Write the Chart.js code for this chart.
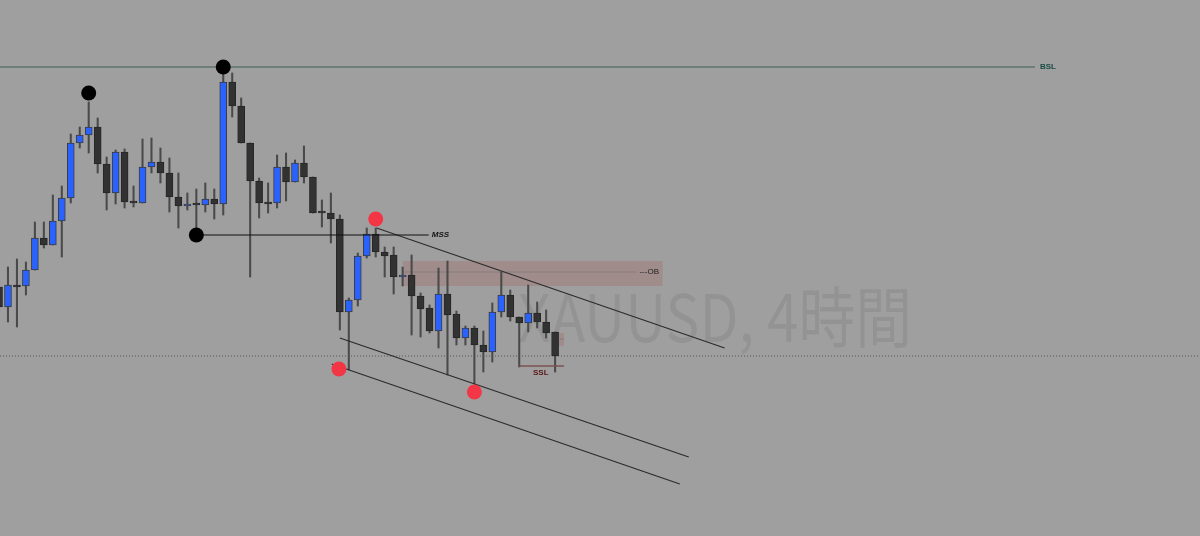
<!DOCTYPE html>
<html>
<head>
  <title>XAUUSD, 4時間</title>
  <meta charset="UTF-8">
  <script src="https://cdn.jsdelivr.net/npm/chart.js"></script>
  <style>
    html, body {
      margin: 0;
      padding: 0;
      background-color: #9f9f9f;
      overflow: hidden;
    }
    #grafikContainer { width: 1200px; height: 536px; }
  </style>
</head>
<body>

  <div id="grafikContainer">
    <canvas id="grafikXau" width="1200" height="536"></canvas>
  </div>

  <script>
    // 4h candles, left to right (index 0 is the one cut off at the left edge)
    const opens  = [2213, 2193, 2214, 2214, 2230, 2262, 2255, 2279, 2302, 2357, 2365, 2373, 2336, 2307, 2348, 2299,
                    2297, 2333, 2338, 2327, 2303, 2294, 2296, 2295, 2301, 2296, 2418, 2394, 2357, 2319, 2297, 2297,
                    2333, 2318, 2337, 2323, 2288, 2287, 2281, 2188, 2200, 2244, 2266, 2248, 2245, 2223, 2225, 2204,
                    2192, 2169, 2206, 2186, 2162, 2172, 2155, 2148, 2188, 2205, 2183, 2177, 2187, 2178, 2168];
    const highs  = [2220, 2233, 2241, 2238, 2278, 2278, 2305, 2314, 2366, 2373, 2398, 2382, 2343, 2350, 2351, 2314,
                    2361, 2362, 2352, 2342, 2327, 2307, 2311, 2317, 2311, 2427, 2427, 2402, 2357, 2322, 2317, 2345,
                    2347, 2340, 2354, 2323, 2300, 2307, 2285, 2202, 2247, 2272, 2272, 2253, 2253, 2233, 2245, 2207,
                    2195, 2232, 2239, 2189, 2174, 2174, 2169, 2197, 2228, 2210, 2183, 2215, 2198, 2190, 2168];
    const lows   = [2188, 2178, 2173, 2205, 2230, 2252, 2255, 2243, 2297, 2352, 2347, 2327, 2290, 2296, 2292, 2293,
                    2297, 2327, 2317, 2288, 2272, 2290, 2267, 2288, 2281, 2285, 2383, 2357, 2223, 2282, 2287, 2292,
                    2299, 2318, 2317, 2287, 2273, 2257, 2170, 2130, 2194, 2242, 2243, 2223, 2206, 2214, 2165, 2163,
                    2167, 2152, 2125, 2155, 2155, 2116, 2128, 2138, 2183, 2179, 2133, 2168, 2172, 2162, 2128];
    const closes = [2193, 2215, 2213, 2230, 2262, 2255, 2279, 2302, 2357, 2365, 2373, 2336, 2307, 2348, 2298, 2297,
                    2333, 2338, 2327, 2303, 2294, 2296, 2295, 2301, 2296, 2418, 2394, 2357, 2319, 2297, 2296, 2333,
                    2318, 2337, 2323, 2287, 2287, 2281, 2188, 2200, 2244, 2266, 2248, 2244, 2223, 2225, 2204, 2191,
                    2169, 2206, 2185, 2162, 2172, 2155, 2148, 2188, 2205, 2183, 2177, 2187, 2178, 2167, 2144];

    // marked swing points
    const swingX = [10, 25, 22];
    const swingY = [2407, 2433, 2265];
    const sweepX = [42, 37.9, 53];
    const sweepY = [2281, 2131, 2108];

    // levels
    const bslLevel = 2433;
    const bslEnd = 115.5;
    const mssLevel = 2265;
    const mssFrom = 22, mssTo = 47.9;
    const sslLevel = 2134;
    const sslFrom = 58, sslTo = 63;
    const priceNow = 2144;
    const obTop = 2239, obBottom = 2214, obMid = 2228;
    const obFrom = 45, obTo = 74, obLineTo = 71.1;
    const smallObTop = 2167, smallObBottom = 2154, smallObMid = 2161;
    const smallObFrom = 62.3, smallObTo = 63;

    // trendline + channel
    const trendX = [42.1, 80.9];
    const trendY = [2272, 2152];
    const channelAX = [38, 76.9];
    const channelAY = [2162, 2043];
    const channelBX = [37.1, 75.9];
    const channelBY = [2136, 2016];

    const xMin = 0.11, xMax = 133.9;

    const idx = opens.map((_, i) => i);
    const naik = idx.map(i => closes[i] >= opens[i]);

    const wickData = idx.map(i => ({ x: i, y: [lows[i], highs[i]] }));
    const bodyData = idx.map(i => ({ x: i, y: [opens[i], closes[i]] }));

    function garis(xs, ys, warna, lebar, dash, order) {
      return {
        type: 'line',
        data: xs.map((x, i) => ({ x: x, y: ys[i] })),
        borderColor: warna,
        borderWidth: lebar,
        borderDash: dash || [],
        pointRadius: 0,
        fill: false,
        order: order
      };
    }

    function kotak(x1, x2, atas, bawah, warna) {
      return {
        type: 'line',
        data: [{ x: x1, y: atas }, { x: x2, y: atas }],
        borderWidth: 0,
        pointRadius: 0,
        backgroundColor: warna,
        fill: { value: bawah },
        order: 30
      };
    }

    function titik(xs, ys, warna) {
      return {
        type: 'scatter',
        data: xs.map((x, i) => ({ x: x, y: ys[i] })),
        backgroundColor: warna,
        borderWidth: 0,
        pointRadius: 7.5,
        order: 1
      };
    }

    // text on the canvas: watermark + level names
    const tulisan = {
      id: 'tulisan',
      beforeDatasetsDraw(chart) {
        const { ctx, scales: { x, y } } = chart;
        const teks = 'XAUUSD, 4時間';
        ctx.save();
        ctx.font = "66px 'Noto Sans CJK JP'";
        ctx.fillStyle = 'rgba(0, 0, 0, 0.07)';
        ctx.textBaseline = 'alphabetic';
        const x0 = x.getPixelForValue(57.86);
        const x1 = x.getPixelForValue(101.8);
        const sx = (x1 - x0) / ctx.measureText(teks).width;
        ctx.translate(x0, y.getPixelForValue(2158));
        ctx.scale(sx, 1);
        ctx.fillText(teks, 0, 0);
        ctx.restore();
      },
      afterDatasetsDraw(chart) {
        const { ctx, scales: { x, y } } = chart;
        const tulis = (teks, xv, yv, font, warna, align) => {
          ctx.save();
          ctx.font = font;
          ctx.fillStyle = warna;
          ctx.textAlign = align;
          ctx.textBaseline = 'middle';
          ctx.fillText(teks, x.getPixelForValue(xv), y.getPixelForValue(yv));
          ctx.restore();
        };
        tulis('BSL', bslEnd + 0.55, bslLevel, "bold 8px 'Liberation Sans'", '#1d4a43', 'left');
        tulis('MSS', mssTo + 0.35, mssLevel, "italic bold 8px 'Liberation Sans'", '#111', 'left');
        tulis('---OB', obLineTo + 0.3, obMid, "8px 'Liberation Sans'", '#222', 'left');
        tulis('SSL', (sslFrom + sslTo) / 2 - 0.1, sslLevel - 7, "bold 8px 'Liberation Sans'", '#5a1616', 'center');
      }
    };

    const ctx = document.getElementById('grafikXau').getContext('2d');
    const chart = new Chart(ctx, {
      type: 'bar',
      data: {
        datasets: [
          kotak(obFrom, obTo, obTop, obBottom, 'rgba(165, 115, 115, 0.42)'),
          kotak(smallObFrom, smallObTo, smallObTop, smallObBottom, 'rgba(165, 115, 115, 0.42)'),
          garis([obFrom, obLineTo], [obMid, obMid], '#6e6e6e', 1, [1, 1], 25),
          garis([smallObFrom, smallObTo], [smallObMid, smallObMid], '#6e6e6e', 1, [1, 1], 25),
          garis([xMin - 1, xMax + 1], [priceNow, priceNow], '#555', 1, [1, 2], 24),
          {
            type: 'bar',
            data: wickData,
            backgroundColor: '#4a4a4a',
            barThickness: 1.4,
            grouped: false,
            order: 20
          },
          {
            type: 'bar',
            data: bodyData,
            backgroundColor: idx.map(i => naik[i] ? '#2962ff' : '#323232'),
            borderColor: idx.map(i => naik[i] ? '#3c3c3c' : '#262626'),
            borderWidth: 1,
            borderSkipped: false,
            barThickness: 7,
            minBarLength: 2,
            grouped: false,
            order: 19
          },
          garis([xMin - 1, bslEnd], [bslLevel, bslLevel], '#3e6159', 1.2, [], 10),
          garis([mssFrom, mssTo], [mssLevel, mssLevel], '#111', 1.2, [], 10),
          garis([sslFrom, sslTo], [sslLevel, sslLevel], '#7d5252', 1.5, [], 10),
          garis(trendX, trendY, '#2b2b2b', 1.2, [], 10),
          garis(channelAX, channelAY, '#2b2b2b', 1.2, [], 10),
          garis(channelBX, channelBY, '#2b2b2b', 1.2, [], 10),
          titik(swingX, swingY, '#000'),
          titik(sweepX, sweepY, '#f23645')
        ]
      },
      options: {
        responsive: false,
        devicePixelRatio: 1,
        animation: false,
        layout: { padding: 0, autoPadding: false },
        plugins: {
          legend: { display: false },
          tooltip: { enabled: false }
        },
        scales: {
          x: { type: 'linear', min: xMin, max: xMax, offset: false, display: false },
          y: { type: 'linear', min: 1964, max: 2500, display: false }
        }
      },
      plugins: [tulisan]
    });
  </script>

</body>
</html>
